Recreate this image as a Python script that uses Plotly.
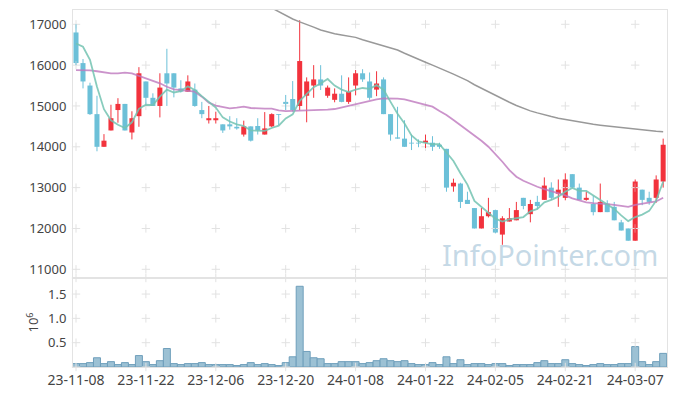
import plotly.graph_objects as go
import pandas as pd

# ---------------- data ----------------
holidays = ["2023-12-25", "2023-12-29", "2024-01-01", "2024-02-09", "2024-02-12", "2024-03-01"]
dates = pd.bdate_range("2023-11-08", periods=85, freq="C", holidays=holidays)
date_labels = [d.strftime("%y-%m-%d") for d in dates]

open_ = [16800, 16050, 15500, 14800, 14000, 14400, 14900, 15050, 14350, 14750,
         15600, 15200, 15000, 15800, 15800, 15430, 15350, 15400, 14900, 14650,
         14650, 14550, 14550, 14490, 14300, 14500, 14510, 14300, 14500, 14800,
         15100, 15170, 15000, 15250, 15500, 15650, 15250, 15150, 15300, 15100,
         15500, 15800, 15600, 15400, 15650, 14800, 14230, 14200, 14100, 14100,
         14100, 14100, 14050, 13950, 13030, 13100, 12700, 12500, 12000, 12300,
         12450, 11850, 12170, 12200, 12750, 12350, 12650, 12700, 13000, 12850,
         12750, 13330, 13000, 12700, 12600, 12400, 12610, 12530, 12150, 12000,
         11700, 12950, 12750, 12750, 13150]
high = [17000, 16150, 15570, 15250, 14310, 15030, 15190, 15050, 14870, 15950,
        15600, 15310, 15800, 16400, 15800, 15630, 15750, 15550, 15100, 15000,
        14860, 14550, 14750, 14700, 14640, 14500, 14700, 14850, 14820, 14800,
        15270, 15610, 17100, 15700, 16000, 16000, 15500, 15430, 15750, 15700,
        15880, 15900, 15820, 15850, 15700, 14800, 14980, 14650, 14300, 14180,
        14300, 14260, 14100, 13950, 13220, 13120, 12900, 12500, 12500, 12750,
        12460, 12300, 12500, 12650, 12750, 12700, 12800, 13250, 13130, 13200,
        13350, 13330, 13100, 12900, 12800, 13100, 12690, 12650, 12210, 12000,
        13200, 12950, 12900, 13300, 14200]
low = [16000, 15430, 14780, 13890, 14000, 14400, 14590, 14400, 14180, 14490,
       15040, 15000, 14720, 15000, 15210, 15330, 15350, 14980, 14700, 14570,
       14570, 14340, 14420, 14420, 14250, 14130, 14300, 14300, 14480, 14530,
       14900, 14860, 14900, 14600, 15200, 15390, 15200, 15090, 15090, 15050,
       15260, 15590, 15150, 15240, 14800, 14150, 14200, 14000, 13920, 13990,
       13970, 13900, 13950, 12900, 12900, 12500, 12600, 12000, 12000, 12270,
       11880, 11600, 12170, 12200, 12470, 12150, 12470, 12700, 12700, 12530,
       12690, 13000, 12700, 12680, 12320, 12400, 12400, 12200, 11950, 11700,
       11700, 12570, 12580, 12630, 13000]
close = [16050, 15600, 14800, 14000, 14150, 14700, 15050, 14400, 14700, 15800,
         15200, 15000, 15450, 15550, 15450, 15350, 15600, 15000, 14800, 14700,
         14700, 14400, 14500, 14450, 14500, 14150, 14400, 14450, 14800, 14780,
         15050, 14900, 16100, 15600, 15650, 15500, 15450, 15300, 15100, 15350,
         15800, 15650, 15200, 15550, 14800, 14300, 14200, 14000, 14080, 14080,
         14150, 14000, 14000, 13000, 13120, 12650, 12600, 12000, 12300, 12400,
         11900, 12250, 12250, 12450, 12550, 12600, 12550, 13050, 12750, 12950,
         13200, 13000, 12700, 12750, 12400, 12650, 12400, 12200, 11950, 11700,
         13150, 12700, 12650, 13200, 14050]

ma5 = [16530, 16450, 16130, 15470, 14920, 14650, 14540, 14460, 14600, 14930,
       15030, 15020, 15230, 15400, 15330, 15360, 15480, 15390, 15240, 15090,
       14960, 14720, 14620, 14550, 14510, 14400, 14400, 14390, 14460, 14516,
       14696, 14796, 15126, 15286, 15460, 15550, 15660, 15500, 15400, 15340,
       15400, 15440, 15420, 15510, 15400, 15100, 14810, 14570, 14276, 14132,
       14102, 14062, 14062, 13846, 13654, 13354, 13074, 12674, 12534, 12390,
       12240, 12170, 12220, 12250, 12280, 12420, 12480, 12640, 12700, 12780,
       12900, 12990, 12920, 12920, 12810, 12700, 12580, 12480, 12320, 12180,
       12280, 12340, 12430, 12680, 13150]
ma20 = [15880, 15880, 15870, 15850, 15825, 15800, 15800, 15815, 15800, 15740,
        15675, 15620, 15555, 15470, 15407, 15390, 15375, 15350, 15227, 15080,
        15007, 14966, 14941, 14957, 14982, 14950, 14933, 14933, 14933, 14892,
        14876, 14876, 14884, 14892, 14900, 14900, 14908, 14925, 14966, 15015,
        15056, 15096, 15130, 15162, 15186, 15186, 15178, 15162, 15121, 15080,
        15039, 14982, 14876, 14778, 14655, 14533, 14410, 14288, 14149, 14002,
        13822, 13634, 13430, 13266, 13168, 13087, 13021, 12964, 12915, 12858,
        12809, 12736, 12694, 12637, 12620, 12613, 12596, 12580, 12564, 12531,
        12580, 12613, 12629, 12662, 12752]
ma60 = [None] * 26 + [
        17580, 17490, 17400, 17300, 17210, 17130, 17060, 17000, 16930, 16860,
        16810, 16770, 16740, 16710, 16680, 16620, 16570, 16530, 16480, 16430,
        16370, 16290, 16210, 16140, 16070, 16000, 15930, 15860, 15780, 15700,
        15620, 15520, 15430, 15340, 15260, 15170, 15090, 15010, 14940, 14880,
        14830, 14780, 14740, 14700, 14670, 14630, 14600, 14580, 14550, 14530,
        14510, 14490, 14470, 14450, 14430, 14410, 14390, 14380, 14370]

volume = [70000, 70000, 90000, 190000, 70000, 110000, 50000, 90000, 50000, 235000,
          110000, 50000, 130000, 380000, 70000, 50000, 70000, 70000, 90000, 50000,
          50000, 50000, 50000, 30000, 50000, 90000, 50000, 70000, 50000, 30000,
          90000, 210000, 1660000, 320000, 190000, 170000, 70000, 70000, 110000, 110000,
          110000, 70000, 90000, 130000, 170000, 130000, 110000, 130000, 70000, 50000,
          50000, 90000, 50000, 210000, 70000, 150000, 50000, 70000, 70000, 50000,
          70000, 70000, 30000, 50000, 50000, 50000, 90000, 130000, 70000, 70000,
          150000, 70000, 50000, 30000, 50000, 70000, 50000, 50000, 70000, 70000,
          420000, 110000, 50000, 110000, 280000]

price_ticks = [11000, 12000, 13000, 14000, 15000, 16000, 17000]
price_tick_text = [str(v) for v in price_ticks]
vol_ticks = [500000, 1000000, 1500000]
vol_tick_text = ["0.5", "1.0", "1.5"]
label_step = 10

# ---------------- styles ----------------
RED = "#f2333d"
BLUE = "#6cc0d8"
GREEN = "rgba(115,195,178,0.85)"
PURPLE = "rgba(190,120,190,0.8)"
GRAY = "#999999"
BORDER = "#e3e3e3"
CROSS = "#e2e2e2"
FONT = "Noto Sans"
BODY_W = 0.72
MIN_BODY = 18

idx = list(range(len(close)))
x_ticks = idx[::label_step]
x_labels = date_labels[::label_step]
xr = [-0.43, 84.55]
yr = [10787, 17350]
vr = [0, 1830000]
split = 0.2493

fig = go.Figure()

# grid crosses
gx, gy = [], []
for xv in x_ticks:
    for yv in price_ticks + [yr[0]]:
        gx.append(xv)
        gy.append(yv)
fig.add_trace(go.Scatter(x=gx, y=gy, mode="markers", xaxis="x", yaxis="y",
                         marker=dict(symbol="cross-thin", size=6, line=dict(color=CROSS, width=1)),
                         cliponaxis=False, hoverinfo="skip", showlegend=False))
vx, vy = [], []
for xv in x_ticks:
    for yv in vol_ticks + [0]:
        vx.append(xv)
        vy.append(yv)
fig.add_trace(go.Scatter(x=vx, y=vy, mode="markers", xaxis="x2", yaxis="y2",
                         marker=dict(symbol="cross-thin", size=6, line=dict(color=CROSS, width=1)),
                         cliponaxis=False, hoverinfo="skip", showlegend=False))

# candles: wicks + bodies, split by direction
for up, col in ((True, RED), (False, BLUE)):
    sel = [i for i in idx if (close[i] >= open_[i]) == up]
    wx, wy = [], []
    for i in sel:
        wx += [i, i, None]
        wy += [low[i], high[i], None]
    fig.add_trace(go.Scatter(x=wx, y=wy, mode="lines", line=dict(color=col, width=1),
                             xaxis="x", yaxis="y", hoverinfo="skip", showlegend=False))
    base = [min(open_[i], close[i]) for i in sel]
    hgt = [max(abs(close[i] - open_[i]), MIN_BODY) for i in sel]
    fig.add_trace(go.Bar(x=sel, y=hgt, base=base, width=BODY_W, xaxis="x", yaxis="y",
                         marker=dict(color=col, line=dict(width=0)),
                         hoverinfo="skip", showlegend=False))

fig.add_trace(go.Scatter(x=idx, y=ma60, mode="lines", line=dict(color=GRAY, width=1.5),
                         xaxis="x", yaxis="y", hoverinfo="skip", showlegend=False))
fig.add_trace(go.Scatter(x=idx, y=ma20, mode="lines", line=dict(color=PURPLE, width=1.8),
                         xaxis="x", yaxis="y", hoverinfo="skip", showlegend=False))
fig.add_trace(go.Scatter(x=idx, y=ma5, mode="lines", line=dict(color=GREEN, width=1.8),
                         xaxis="x", yaxis="y", hoverinfo="skip", showlegend=False))

fig.add_trace(go.Bar(x=idx, y=volume, width=1, xaxis="x2", yaxis="y2",
                     marker=dict(color="#9cc1d4", line=dict(color="#6f9fbb", width=1)),
                     hoverinfo="skip", showlegend=False))

axis_font = dict(family=FONT, size=13, color="#444444")

fig.update_layout(
    width=677, height=396,
    margin=dict(l=73, r=10, t=10, b=29),
    paper_bgcolor="white", plot_bgcolor="white",
    barmode="overlay",
    hovermode=False,
    font=axis_font,
    xaxis=dict(domain=[0, 1], anchor="y", range=xr, showticklabels=False,
               showgrid=False, zeroline=False, showline=True, mirror=True,
               linecolor=BORDER, ticks="", automargin=False),
    xaxis2=dict(domain=[0, 1], anchor="y2", range=xr, matches="x",
                tickmode="array", tickvals=x_ticks, ticktext=x_labels,
                showgrid=False, zeroline=False, showline=True, mirror=True,
                linecolor=BORDER, ticks="", automargin=False,
                tickfont=dict(family=FONT, size=14, color="#444444")),
    yaxis=dict(domain=[split, 1], anchor="x", range=yr, tickmode="array",
               tickvals=price_ticks, ticktext=price_tick_text, showgrid=False,
               zeroline=False, showline=True, mirror=True, linecolor=BORDER,
               ticks="", ticklabelstandoff=3, automargin=False),
    yaxis2=dict(domain=[0, split], anchor="x2", range=vr, tickmode="array",
                tickvals=vol_ticks, ticktext=vol_tick_text, showgrid=False,
                zeroline=False, showline=True, mirror=True, linecolor=BORDER,
                ticks="", ticklabelstandoff=3, automargin=False,
                title=dict(text="10<sup>6</sup>", standoff=6,
                           font=dict(family=FONT, size=13, color="#444444"))),
    annotations=[dict(text="InfoPointer.com", xref="paper", yref="paper",
                      x=0.803, y=0.314, xanchor="center", yanchor="middle",
                      showarrow=False,
                      font=dict(family=FONT, size=29, color="rgba(140,180,205,0.5)"))],
)

fig.write_html("out.html",
               config={"displayModeBar": False, "staticPlot": True},
               post_script="document.body.style.margin='0';document.body.style.padding='0';")
